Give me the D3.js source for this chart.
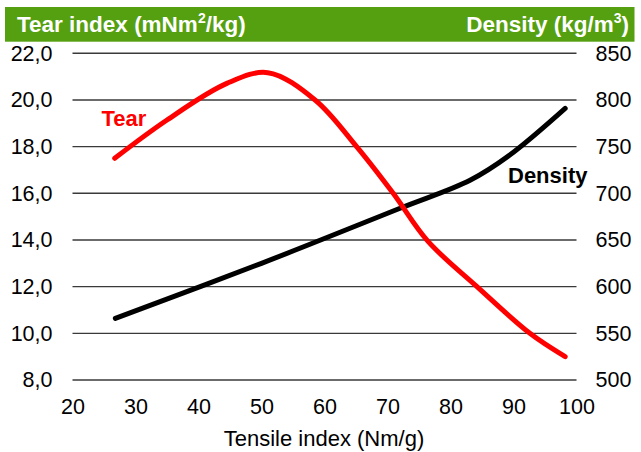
<!DOCTYPE html>
<html><head><meta charset="utf-8">
<script src="https://cdn.jsdelivr.net/npm/d3@7/dist/d3.min.js"></script>
<style>body{margin:0;background:#fff}svg{display:block}text{font-family:"Liberation Sans",Arial,sans-serif}</style>
</head><body><svg id="c" width="641" height="452"></svg>
<script>
const tensileTear = [26.7, 35, 44.5, 51, 58.5, 65.1, 70.9, 76.4, 84.2, 92.6, 98.2];
const tearValues  = [17.5, 19.14, 20.71, 21.17, 20.0, 18.0, 16.0, 13.95, 12.0, 10.0, 9.0];
const tensileDensity = [26.8, 50, 72, 83.1, 89.4, 98.2];
const densityValues  = [566, 625, 684, 714, 741, 791];
const xTicks = [20, 30, 40, 50, 60, 70, 80, 90, 100];
const tearTicks = [8, 10, 12, 14, 16, 18, 20, 22];
const densityTicks = [500, 550, 600, 650, 700, 750, 800, 850];

const svg = d3.select("#c");
const x = d3.scaleLinear().domain([20, 100]).range([72.5, 576.5]);
const yL = d3.scaleLinear().domain([8, 22]).range([380, 53.3]);
const yR = d3.scaleLinear().domain([500, 850]).range([380, 53.3]);

// header
svg.append("rect").attr("x", 5).attr("y", 7).attr("width", 629.5).attr("height", 34.7).attr("fill", "#55a011");
const hl = svg.append("text").attr("x", 17).attr("y", 32).attr("fill", "#fff")
  .attr("font-weight", "bold").attr("font-size", 22.5);
hl.append("tspan").text("Tear index (mNm");
hl.append("tspan").text("2").attr("font-size", 14).attr("dy", -9);
hl.append("tspan").text("/kg)").attr("dy", 9);
const hr = svg.append("text").attr("x", 629).attr("y", 32).attr("fill", "#fff")
  .attr("font-weight", "bold").attr("font-size", 22.5).attr("text-anchor", "end");
hr.append("tspan").text("Density (kg/m");
hr.append("tspan").text("3").attr("font-size", 14).attr("dy", -9);
hr.append("tspan").text(")").attr("dy", 9);

// gridlines
svg.append("g").selectAll("line").data(tearTicks).join("line")
  .attr("x1", x(20)).attr("x2", x(100))
  .attr("y1", d => yL(d)).attr("y2", d => yL(d))
  .attr("stroke", "#3a3a3a").attr("stroke-width", 1.4);

const tickFont = 21.5;
// left axis
const la = svg.append("g").attr("transform", `translate(${x(20)},0)`)
  .call(d3.axisLeft(yL).tickValues(tearTicks).tickSize(0).tickPadding(20)
    .tickFormat(d => d3.format(".1f")(d).replace(".", ",")));
la.select(".domain").remove();
la.selectAll("text").attr("font-size", tickFont).attr("fill", "#000").attr("font-family", "Liberation Sans, Arial, sans-serif");

// right axis
const ra = svg.append("g").attr("transform", `translate(${x(100)},0)`)
  .call(d3.axisRight(yR).tickValues(densityTicks).tickSize(0).tickPadding(19));
ra.select(".domain").remove();
ra.selectAll("text").attr("font-size", tickFont).attr("fill", "#000").attr("font-family", "Liberation Sans, Arial, sans-serif");

// bottom axis
const ba = svg.append("g").attr("transform", `translate(0,380)`)
  .call(d3.axisBottom(x).tickValues(xTicks).tickSize(0).tickPadding(19));
ba.select(".domain").remove();
ba.selectAll("text").attr("font-size", tickFont).attr("fill", "#000").attr("font-family", "Liberation Sans, Arial, sans-serif");

svg.append("text").attr("x", 324).attr("y", 446).attr("text-anchor", "middle")
  .attr("font-size", 22).attr("fill", "#000").text("Tensile index (Nm/g)");

// lines
const curve = d3.curveCatmullRom.alpha(0.5);
const tearLine = d3.line().x((d, i) => x(tensileTear[i])).y(d => yL(d)).curve(curve);
const densLine = d3.line().x((d, i) => x(tensileDensity[i])).y(d => yR(d)).curve(curve);
svg.append("path").attr("d", densLine(densityValues)).attr("fill", "none")
  .attr("stroke", "#000").attr("stroke-width", 5).attr("stroke-linecap", "round").attr("stroke-linejoin", "round");
svg.append("path").attr("d", tearLine(tearValues)).attr("fill", "none")
  .attr("stroke", "#ff0000").attr("stroke-width", 5).attr("stroke-linecap", "round").attr("stroke-linejoin", "round");

// labels
svg.append("text").attr("x", 101.5).attr("y", 126).attr("font-size", 22).attr("font-weight", "bold")
  .attr("fill", "#ff0000").text("Tear");
svg.append("text").attr("x", 508).attr("y", 183).attr("font-size", 22).attr("font-weight", "bold")
  .attr("fill", "#000").text("Density");
</script></body></html>
